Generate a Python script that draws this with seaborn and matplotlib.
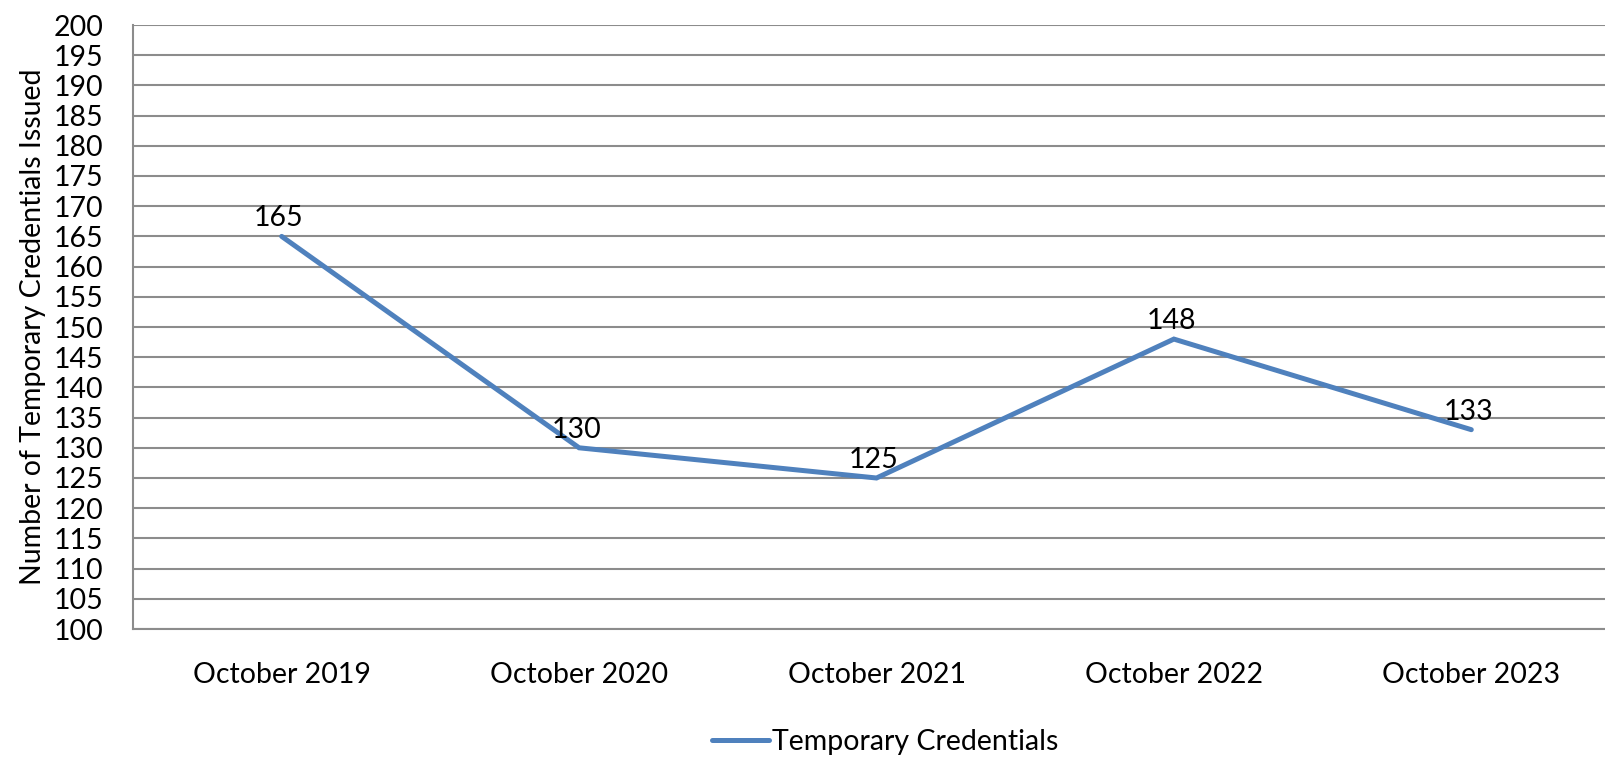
import matplotlib
matplotlib.use("Agg")
import matplotlib.pyplot as plt
import seaborn as sns
import pandas as pd
import numpy as np

# Temporary credentials issued each October
periods = ["October 2019", "October 2020", "October 2021", "October 2022", "October 2023"]
issued = [165, 130, 125, 148, 133]
series_name = "Temporary Credentials"
y_ticks = list(range(100, 201, 5))

sns.set_theme(style="white")
plt.rcParams["font.family"] = ["Lato", "DejaVu Sans"]

df = pd.DataFrame({"period": periods, "issued": issued})

fig = plt.figure(figsize=(16.05, 7.6), dpi=100)
ax = fig.add_axes([133 / 1605, 1 - 629 / 760, 5 * 297.4 / 1605, (629 - 25) / 760])

line_color = "#4F81BD"
grid_color = "#8C8C8C"
fs = 20.5

sns.lineplot(data=df, x="period", y="issued", ax=ax, color=line_color,
             linewidth=3.6, label=series_name, sort=False,
             solid_capstyle="round", solid_joinstyle="miter")

for i, v in enumerate(issued):
    ax.annotate(f"{v}", (i, v), xytext=(-2, 13), textcoords="offset points",
                ha="center", va="center", fontsize=fs, color="black")

ax.set_xlim(-0.5, len(periods) - 0.5)
ax.set_ylim(100, 200)
ax.set_yticks(y_ticks)
ax.set_yticklabels([str(t) for t in y_ticks], fontsize=fs, color="black")
ax.set_xticks(range(len(periods)))
ax.set_xticklabels(periods, fontsize=fs, color="black")
ax.set_xticks(np.arange(-0.5, len(periods), 1.0), minor=True)

ax.tick_params(axis="x", which="major", length=0, pad=24)
ax.tick_params(axis="x", which="minor", length=8, width=1.5, color=grid_color, direction="out")
ax.tick_params(axis="y", which="major", length=8, width=1.5, color=grid_color, direction="out", pad=13)

ax.yaxis.grid(True, color=grid_color, linewidth=1.5)
ax.xaxis.grid(False)
ax.set_axisbelow(True)

for side in ["top", "right"]:
    ax.spines[side].set_visible(False)
for side in ["left", "bottom"]:
    ax.spines[side].set_color(grid_color)
    ax.spines[side].set_linewidth(1.5)

ax.set_xlabel("")
ax.set_ylabel("Number of Temporary Credentials Issued", fontsize=fs, color="black", labelpad=6)

leg = ax.legend(loc="center", bbox_to_anchor=(885 / 1605, 1 - 742 / 760),
                bbox_transform=fig.transFigure, frameon=False, fontsize=fs,
                handlelength=2.0, handletextpad=0.1)
for t in leg.get_texts():
    t.set_color("black")

fig.savefig("out.png", dpi=100)
